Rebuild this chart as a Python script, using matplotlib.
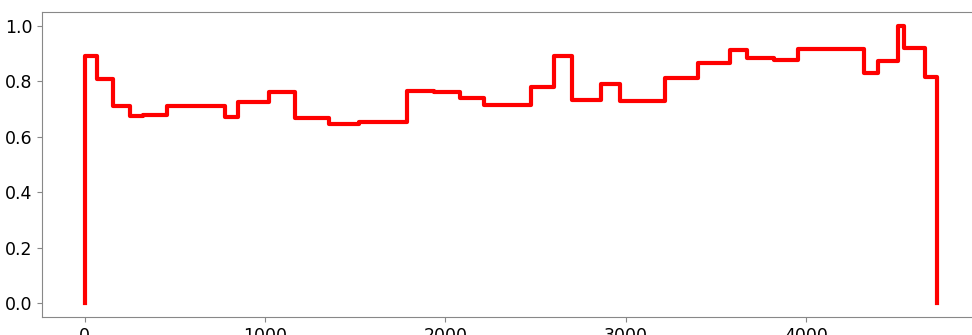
import matplotlib
matplotlib.use('Agg')
import matplotlib.pyplot as plt

# step edges (x) and level that starts at each edge (post style)
edges = [0, 0, 70, 155, 253, 323, 455, 780, 848, 1022, 1164, 1353, 1522,
         1788, 1935, 2079, 2212, 2474, 2603, 2703, 2862, 2966, 3217, 3398,
         3579, 3672, 3823, 3952, 4322, 4396, 4507, 4544, 4658, 4727]
levels = [0.0, 0.892, 0.807, 0.710, 0.673, 0.678, 0.711, 0.671, 0.724, 0.762,
          0.667, 0.645, 0.654, 0.766, 0.761, 0.739, 0.714, 0.780, 0.890, 0.732,
          0.791, 0.729, 0.812, 0.864, 0.911, 0.884, 0.875, 0.917, 0.831, 0.872,
          1.0, 0.921, 0.814, 0.0]

fig = plt.figure(figsize=(9.72, 3.35), dpi=100)
ax = fig.add_axes([0.0432, 0.0537, 0.965, 0.911])

ax.step(edges, levels, where='post', color='red', linewidth=3)

ax.set_xlim(-236, 4963)
ax.set_ylim(-0.05, 1.05)
ax.set_xticks([0, 1000, 2000, 3000, 4000])
ax.set_yticks([0.0, 0.2, 0.4, 0.6, 0.8, 1.0])

for s in ax.spines.values():
    s.set_color('#888888')
ax.tick_params(colors='#888888', labelcolor='black', labelsize=12.5)

fig.savefig('out.png', dpi=100)
